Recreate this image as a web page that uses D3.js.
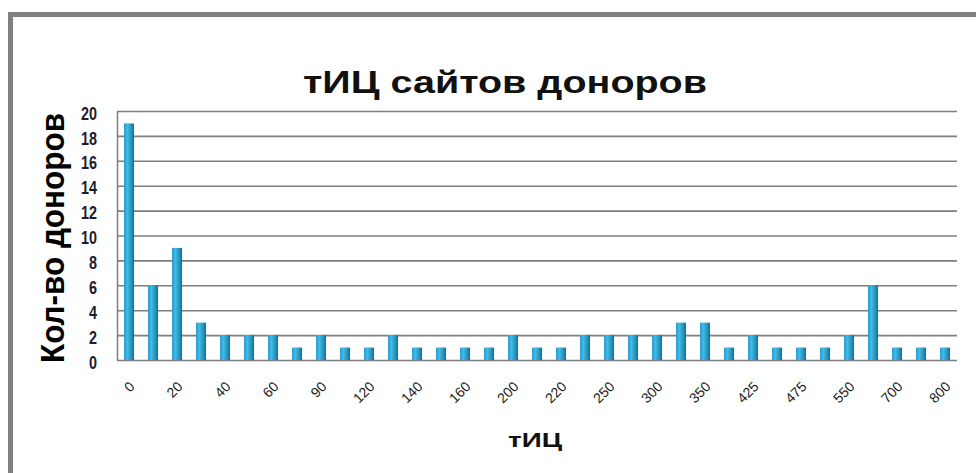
<!DOCTYPE html>
<html>
<head>
<meta charset="utf-8">
<script src="https://cdn.jsdelivr.net/npm/d3@7"></script>
<style>
    body { margin: 0; background: #fff; }
    svg { display: block; font-family: "Liberation Sans", Arial, sans-serif; }
</style>
</head>
<body>
<div id="chart"></div>
<script>
// tИЦ buckets (only every other one is labelled on the axis)
const categories = ['0', '10', '20', '30', '40', '50', '60', '80', '90', '100',
    '120', '130', '140', '150', '160', '180', '200', '210', '220', '230',
    '250', '275', '300', '325', '350', '400', '425', '450', '475', '500',
    '550', '600', '700', '750', '800'];
const donors = [19, 6, 9, 3, 2, 2, 2, 1, 2, 1,
    1, 2, 1, 1, 1, 1, 2, 1, 1, 2,
    2, 2, 2, 3, 3, 1, 2, 1, 1, 1,
    2, 6, 1, 1, 1];
const yTicks = [0, 2, 4, 6, 8, 10, 12, 14, 16, 18, 20];

const W = 976, H = 473;
const plot = { left: 117, right: 957, top: 111, bottom: 360 };

const svg = d3.select('#chart').append('svg')
    .attr('width', W)
    .attr('height', H);

// outer frame (only top and left edges are visible in the picture)
svg.append('rect')
    .attr('x', 10.5).attr('y', 14.5)
    .attr('width', W + 20).attr('height', H + 20)
    .attr('fill', 'none')
    .attr('stroke', '#808082')
    .attr('stroke-width', 5);

const defs = svg.append('defs');
const grad = defs.append('linearGradient')
    .attr('id', 'barGrad')
    .attr('x1', '0%').attr('x2', '100%').attr('y1', '0%').attr('y2', '0%');
grad.append('stop').attr('offset', '0%').attr('stop-color', '#2b9ccb');
grad.append('stop').attr('offset', '35%').attr('stop-color', '#3dbbe4');
grad.append('stop').attr('offset', '75%').attr('stop-color', '#2590bd');
grad.append('stop').attr('offset', '100%').attr('stop-color', '#176a93');

const x = d3.scaleBand()
    .domain(categories)
    .range([plot.left, plot.right])
    .paddingInner(0.58)
    .paddingOuter(0.29);

const y = d3.scaleLinear()
    .domain([0, 20])
    .range([plot.bottom, plot.top]);

// y axis + gridlines
const yAxis = svg.append('g')
    .attr('transform', `translate(${plot.left},0)`)
    .call(d3.axisLeft(y)
        .tickValues(yTicks)
        .tickSizeInner(-(plot.right - plot.left))
        .tickSizeOuter(0)
        .tickPadding(20));
yAxis.select('.domain').attr('stroke', '#7e7e7e').attr('stroke-width', 1.5);
yAxis.selectAll('.tick line').attr('stroke', '#7e7e7e').attr('stroke-width', 1.6);
// narrow, tall digits like the original
yAxis.selectAll('.tick text')
    .attr('x', 0)
    .attr('transform', 'translate(-20,0) scale(0.8,1)')
    .attr('fill', '#1c1c30')
    .style('font-weight', 'bold')
    .style('font-size', '18px')
    .attr('dy', '0.45em');

// bars
svg.append('g').selectAll('rect')
    .data(donors)
    .join('rect')
    .attr('x', (d, i) => x(categories[i]))
    .attr('y', d => y(d))
    .attr('width', x.bandwidth())
    .attr('height', d => y(0) - y(d))
    .attr('fill', 'url(#barGrad)');

// x axis labels, every other category
const xAxis = svg.append('g')
    .attr('transform', `translate(0,${plot.bottom})`)
    .call(d3.axisBottom(x)
        .tickValues(categories.filter((c, i) => i % 2 === 0))
        .tickSize(0));
xAxis.select('.domain').remove();
xAxis.selectAll('.tick text')
    .attr('x', 0).attr('y', 0).attr('dy', '0.35em')
    .attr('text-anchor', 'end')
    .attr('transform', 'translate(3,24) rotate(-45)')
    .attr('fill', '#1a1a1a')
    .style('font-size', '14px')
    .style('font-family', '"Liberation Sans", Arial, sans-serif');

// titles
svg.append('text')
    .attr('x', 505).attr('y', 93)
    .attr('text-anchor', 'middle')
    .attr('textLength', 404)
    .attr('lengthAdjust', 'spacingAndGlyphs')
    .style('font-size', '32px')
    .style('font-weight', 'bold')
    .attr('fill', '#111')
    .text('тИЦ сайтов доноров');

svg.append('text')
    .attr('x', 535).attr('y', 447)
    .attr('text-anchor', 'middle')
    .attr('textLength', 54)
    .attr('lengthAdjust', 'spacingAndGlyphs')
    .style('font-size', '20px')
    .style('font-weight', 'bold')
    .attr('fill', '#111')
    .text('тИЦ');

svg.append('text')
    .attr('transform', 'translate(64,238) scale(1.2,1) rotate(-90)')
    .attr('text-anchor', 'middle')
    .attr('textLength', 250)
    .attr('lengthAdjust', 'spacingAndGlyphs')
    .style('font-size', '28px')
    .style('font-weight', 'bold')
    .attr('fill', '#000')
    .text('Кол-во доноров');
</script>
</body>
</html>
